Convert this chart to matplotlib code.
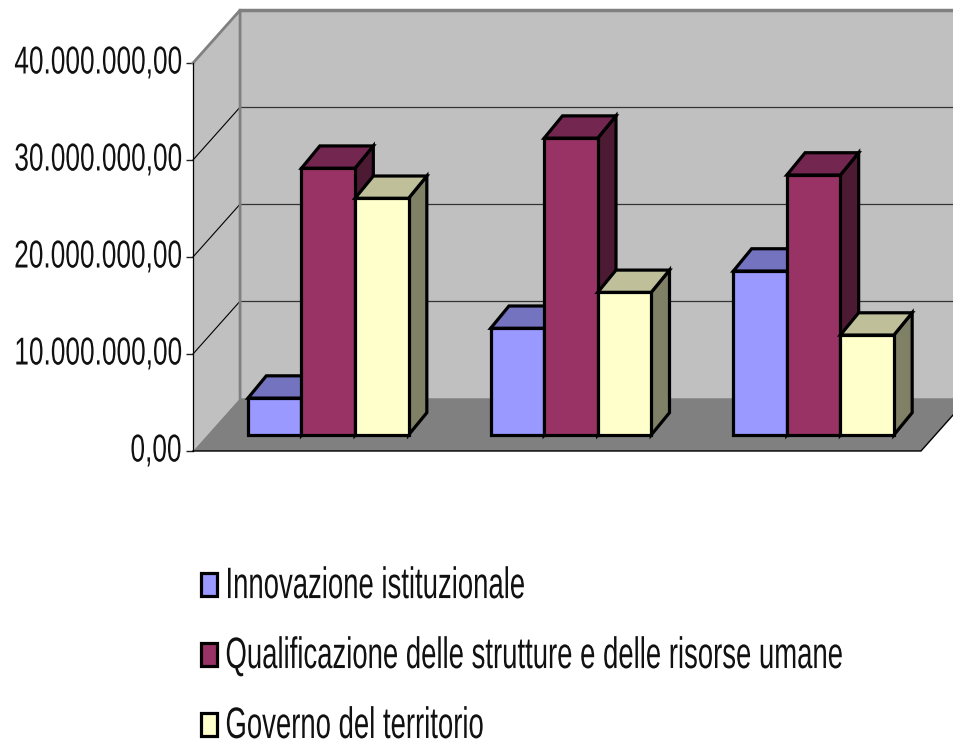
## Grouped bars drawn with a fake 3D box, old spreadsheet style ##
import matplotlib
matplotlib.use('Agg')
import matplotlib.pyplot as plt
from matplotlib.patches import Patch, Polygon
from matplotlib.patheffects import AbstractPathEffect
from matplotlib.transforms import Affine2D

plt.rcParams['font.family'] = ['Liberation Sans', 'DejaVu Sans']

## Data ##
series_names = ['Innovazione istituzionale',
                'Qualificazione delle strutture e delle risorse umane',
                'Governo del territorio']
innovazione = [3800000, 11000000, 16900000]
qualificazione = [27500000, 30600000, 26800000]
governo = [24400000, 14700000, 10300000]
tick_values = [0, 10000000, 20000000, 30000000, 40000000]
tick_labels = ['0,00', '10.000.000,00', '20.000.000,00', '30.000.000,00', '40.000.000,00']

## Colours: front, top, side ##
front_cols = ['#9999FF', '#993366', '#FFFFCC']
top_cols = ['#7373BF', '#732650', '#BFBF99']
side_cols = ['#4D4D80', '#4D1A33', '#808066']

## Box geometry, in axis units ##
YMAX = 40000000
DX = 0.194       # depth of box, x
DY = 5450000     # depth of box, y
BAR_DX = 0.0755  # depth of a bar, x
BAR_DY = 2300000 # depth of a bar, y
BASE = 1650000   # bars stand a bit inside the floor
START = 0.2266
BAR_W = 0.2205


class Tall(AbstractPathEffect):
    # no narrow font here, so the glyphs get stretched upward from the baseline
    def __init__(self, k, down=0):
        super().__init__()
        self.k = k
        self.down = down

    def draw_path(self, renderer, gc, tpath, affine, rgbFace=None):
        tr = Affine2D().scale(1, self.k) + affine + Affine2D().translate(0, -self.down)
        renderer.draw_path(gc, tpath, tr, rgbFace)


fig = plt.figure(figsize=(9.54, 7.40), dpi=100)
ax = fig.add_axes([193 / 954, 1 - 451 / 740, 728 / 954, 388 / 740])
ax.set_xlim(0, 3)
ax.set_ylim(0, YMAX)


def poly(points, color, edge='none', lw=0, z=1):
    ax.add_patch(Polygon(points, closed=True, facecolor=color, edgecolor=edge,
                         linewidth=lw, zorder=z, clip_on=False, joinstyle='miter'))


## Walls and floor ##
poly([(0, 0), (0, YMAX), (DX, YMAX + DY), (DX, DY)], '#C0C0C0')
poly([(DX, DY), (DX, YMAX + DY), (3 + DX, YMAX + DY), (3 + DX, DY)], '#C0C0C0')
poly([(0, 0), (3, 0), (3 + DX, DY), (DX, DY)], '#808080')

## Gridlines ##
for v in tick_values[1:-1]:
    ax.plot([0, DX], [v, v + DY], color='black', lw=0.8, zorder=2, clip_on=False)
    ax.plot([DX, 3 + DX], [v + DY, v + DY], color='#333333', lw=0.9, zorder=2, clip_on=False)
ax.plot([0, DX, DX], [YMAX, YMAX + DY, DY], color='#808080', lw=2, zorder=2, clip_on=False)
ax.plot([DX, 3 + DX], [YMAX + DY, YMAX + DY], color='#808080', lw=2.5, zorder=2, clip_on=False)
ax.plot([0, 0], [0, YMAX], color='black', lw=0.9, zorder=2, clip_on=False)
ax.plot([0, 3, 3 + DX], [0, 0, DY], color='black', lw=1, zorder=2, clip_on=False)

## Bars ##
z = 3
for s, vals in enumerate([innovazione, qualificazione, governo]):
    for g, v in enumerate(vals):
        x0 = g + START + s * BAR_W
        x1 = x0 + BAR_W
        top = BASE + v
        poly([(x1, BASE), (x1, top), (x1 + BAR_DX, top + BAR_DY), (x1 + BAR_DX, BASE + BAR_DY)],
             side_cols[s], 'black', 2.3, z)
        poly([(x0, top), (x1, top), (x1 + BAR_DX, top + BAR_DY), (x0 + BAR_DX, top + BAR_DY)],
             top_cols[s], 'black', 2.3, z)
        ax.bar(x0, v, width=BAR_W, bottom=BASE, align='edge', color=front_cols[s],
               edgecolor='black', linewidth=2.3, zorder=z, clip_on=False)
    z += 1

## Axes ##
for sp in ax.spines.values():
    sp.set_visible(False)
ax.patch.set_visible(False)
ax.set_xticks([])
ax.set_yticks(tick_values)
ax.set_yticklabels(tick_labels, fontsize=18.9, color='#111111')
ax.tick_params(axis='y', length=5, width=1, pad=3.5, color='#222222')
for lab in ax.get_yticklabels():
    lab.set_path_effects([Tall(1.48, 1)])

## Legend ##
handles = [Patch(facecolor=c, edgecolor='black', linewidth=2.3) for c in front_cols]
leg = fig.legend(handles, series_names, loc='upper left', bbox_to_anchor=(201 / 954, 1 - 573 / 740),
                 bbox_transform=fig.transFigure, frameon=False, fontsize=19.8, borderpad=0,
                 borderaxespad=0, handlelength=0.59, handleheight=0.92, handletextpad=0.3,
                 labelspacing=1.56)
for t in leg.get_texts():
    t.set_color('#111111')
    t.set_path_effects([Tall(1.6, 4)])

fig.savefig('out.png', dpi=100)
